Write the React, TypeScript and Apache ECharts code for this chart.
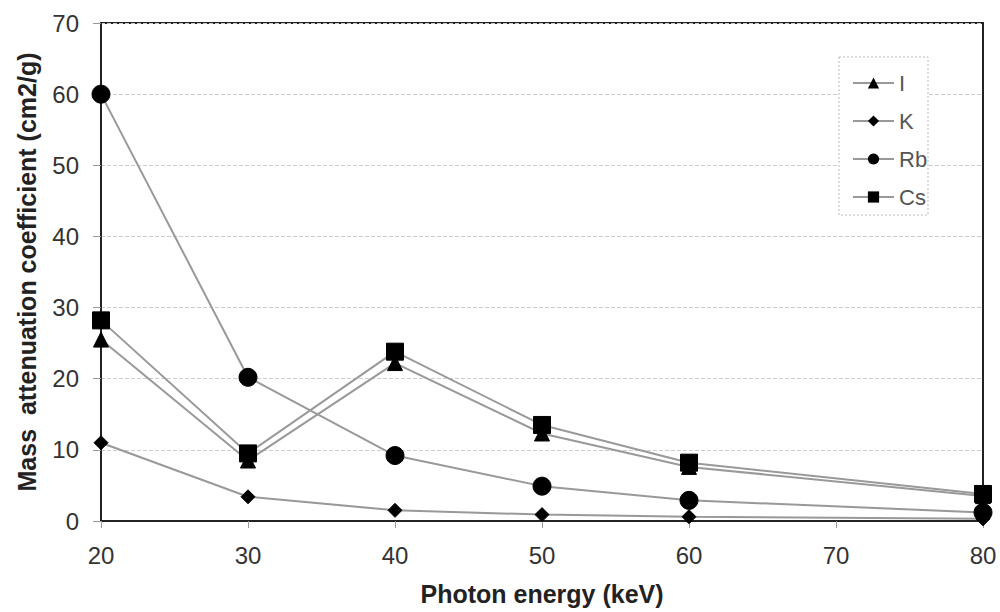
import React, { useEffect, useRef } from "react";
import * as echarts from "echarts";

const energies = [20, 30, 40, 50, 60, 80];
const iodine = [25.5, 8.5, 22.2, 12.3, 7.6, 3.5];
const potassium = [11.0, 3.4, 1.5, 0.9, 0.6, 0.3];
const rubidium = [60.0, 20.2, 9.2, 4.9, 2.9, 1.2];
const cesium = [28.2, 9.5, 23.8, 13.5, 8.2, 3.8];

const seriesNames = ["I", "K", "Rb", "Cs"];
const seriesData = [iodine, potassium, rubidium, cesium];
const symbols = ["triangle", "diamond", "circle", "rect"];
const symbolSizes = [15, 14, 18, 17];

export default function App() {
  const ref = useRef<HTMLDivElement>(null);
  useEffect(() => {
    if (!ref.current) return;
    const chart = echarts.init(ref.current, null, { renderer: "svg" });
    const font = "Liberation Sans, Arial, sans-serif";
    chart.setOption({
      animation: false,
      textStyle: { fontFamily: font },
      grid: {
        left: 101,
        right: 17,
        top: 23,
        bottom: 91,
        show: true,
        borderColor: "#222",
        borderWidth: 2,
        backgroundColor: "transparent",
      },
      graphic: [
        {
          type: "rect",
          shape: { x: 839, y: 57, width: 89, height: 158 },
          style: { fill: "#fff", stroke: "#bbb", lineWidth: 1, lineDash: [2, 2] },
          z: 5,
        },
      ],
      legend: {
        orient: "vertical",
        left: 847,
        top: 67,
        itemWidth: 41,
        itemHeight: 14,
        itemGap: 16,
        textStyle: { fontSize: 22, lineHeight: 22, color: "#555", fontFamily: font },
        data: seriesNames,
        z: 10,
      },
      xAxis: {
        type: "value",
        min: 20,
        max: 80,
        interval: 10,
        name: "Photon energy (keV)",
        nameLocation: "middle",
        nameGap: 60,
        nameTextStyle: { fontSize: 25, fontWeight: "bold", color: "#222", fontFamily: font },
        axisLine: { show: true, lineStyle: { color: "#222", width: 2 } },
        axisTick: { show: true, inside: false, length: 7, lineStyle: { color: "#999" } },
        axisLabel: { fontSize: 24, color: "#333", margin: 22, fontFamily: font },
        splitLine: { show: false },
      },
      yAxis: {
        type: "value",
        min: 0,
        max: 70,
        interval: 10,
        name: "Mass  attenuation coefficient (cm2/g)",
        nameLocation: "middle",
        nameGap: 62,
        nameTextStyle: { fontSize: 25, fontWeight: "bold", color: "#222", fontFamily: font },
        axisLine: { show: true, lineStyle: { color: "#222", width: 2 } },
        axisTick: { show: true, inside: false, length: 8, lineStyle: { color: "#999" } },
        axisLabel: { fontSize: 24, color: "#333", margin: 22, fontFamily: font },
        splitLine: { show: true, lineStyle: { color: "#ccc", type: "dashed", width: 1 } },
      },
      series: seriesNames.map((name, i) => ({
        name,
        type: "line",
        data: energies.map((e, j) => [e, seriesData[i][j]]),
        symbol: symbols[i],
        symbolSize: symbolSizes[i],
        showAllSymbol: true,
        lineStyle: { color: "#999", width: 2 },
        itemStyle: { color: "#000", borderColor: "#000" },
        z: 3 + i,
      })),
    });
    return () => chart.dispose();
  }, []);
  return <div ref={ref} style={{ width: 1000, height: 612, position: "absolute", left: 0, top: 0 }} />;
}
